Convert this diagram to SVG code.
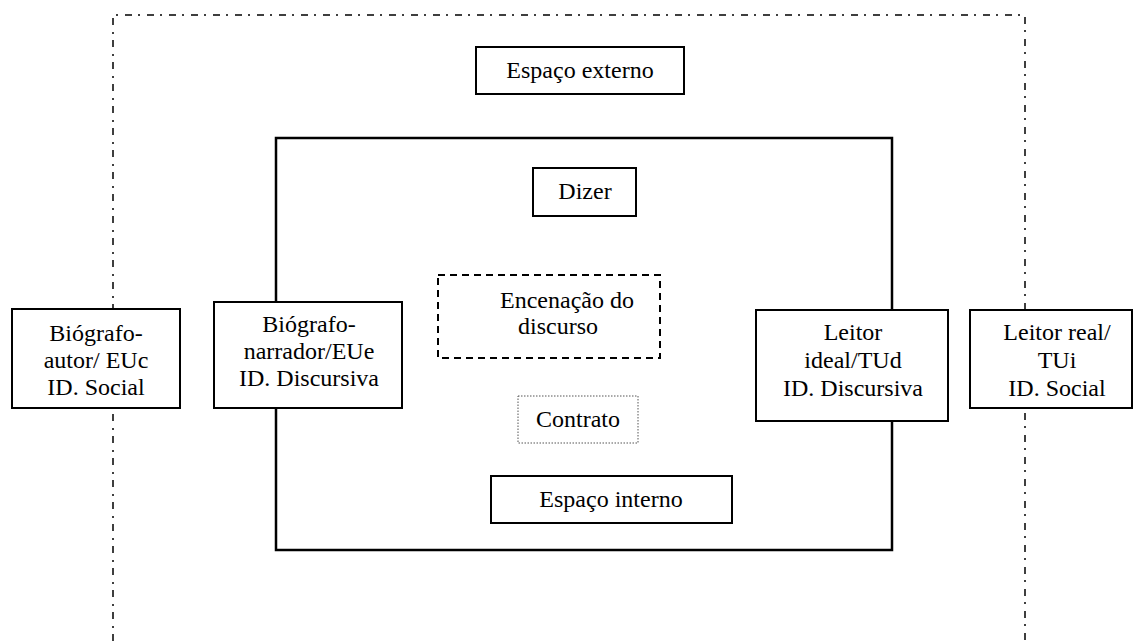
<svg xmlns="http://www.w3.org/2000/svg" width="1133" height="641" viewBox="0 0 1133 641">
<style>
.bg{fill:#fff}
.box{fill:#fff;stroke:#000;stroke-width:2}
.dash{fill:#fff;stroke:#000;stroke-width:2;stroke-dasharray:7 5}
.dot{fill:#fff;stroke:#555;stroke-width:1;stroke-dasharray:1.5 1.5}
.frame{fill:none;stroke:#000;stroke-width:1.5;stroke-dasharray:7 6 2 7}
.inner{fill:none;stroke:#000;stroke-width:2.5}
.t{font-family:"Liberation Serif","Times New Roman",serif;font-size:24px;fill:#000;text-anchor:middle}
</style>
<rect class="bg" x="0" y="0" width="1133" height="641"/>
<g id="connectors">
<path class="frame" d="M113,641 V15 H1025 V641"/>
<rect class="inner" x="276" y="138" width="616" height="412"/>
</g>
<g id="espaco-externo"><rect class="box" x="476" y="47" width="208" height="47"/><text class="t" x="580" y="78">Espaço externo</text></g>
<g id="dizer"><rect class="box" x="533" y="168" width="103" height="48"/><text class="t" x="585" y="199">Dizer</text></g>
<g id="encenacao"><rect class="dash" x="438" y="275" width="222" height="83"/><text class="t" x="567" y="308">Encenação do</text><text class="t" x="558" y="334">discurso</text></g>
<g id="contrato"><rect class="dot" x="518" y="396" width="120" height="47"/><text class="t" x="578" y="427">Contrato</text></g>
<g id="espaco-interno"><rect class="box" x="491" y="476" width="241" height="47"/><text class="t" x="611" y="507">Espaço interno</text></g>
<g id="biografo-autor"><rect class="box" x="12" y="309" width="168" height="99"/><text class="t" x="96" y="341">Biógrafo-</text><text class="t" x="96" y="368">autor/ EUc</text><text class="t" x="96" y="395">ID. Social</text></g>
<g id="biografo-narrador"><rect class="box" x="214" y="302" width="188" height="106"/><text class="t" x="309" y="332">Biógrafo-</text><text class="t" x="309" y="359">narrador/EUe</text><text class="t" x="309" y="386">ID. Discursiva</text></g>
<g id="leitor-ideal"><rect class="box" x="756" y="310" width="192" height="111"/><text class="t" x="853" y="340">Leitor</text><text class="t" x="853" y="368">ideal/TUd</text><text class="t" x="853" y="396">ID. Discursiva</text></g>
<g id="leitor-real"><rect class="box" x="970" y="310" width="162" height="98"/><text class="t" x="1057" y="340">Leitor real/</text><text class="t" x="1057" y="368">TUi</text><text class="t" x="1057" y="396">ID. Social</text></g>
</svg>
